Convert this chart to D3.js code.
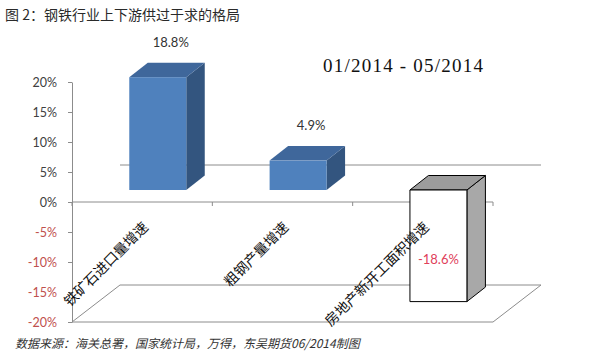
<!DOCTYPE html>
<html><head><meta charset="utf-8">
<script src="https://cdn.jsdelivr.net/npm/d3@7"></script>
<style>
html,body{margin:0;padding:0;background:#fff;}
svg{display:block;}
</style></head>
<body>
<svg id="c" width="594" height="358"></svg>
<script>
// ---- data ----
const categories = ["铁矿石进口量增速", "粗钢产量增速", "房地产新开工面积增速"];
const values = [18.8, 4.9, -18.6];
const valueLabels = ["18.8%", "4.9%", "-18.6%"];
const yTicks = [-20, -15, -10, -5, 0, 5, 10, 15, 20];
const title = "图 2：钢铁行业上下游供过于求的格局";
const period = "01/2014 - 05/2014";
const source = "数据来源：海关总署，国家统计局，万得，东吴期货06/2014制图";

// ---- layout ----
const svg = d3.select("#c");
const y = d3.scaleLinear().domain([-20, 20]).range([322, 82]);
const x = d3.scaleBand().domain(categories).range([72, 493]).paddingInner(0.594).paddingOuter(0.297);
const wall = {dx: 48, dy: -37};      // full depth of the 3D box
const front = {dx: 15.6, dy: -12};   // bar front plane offset
const depth = {dx: 18.5, dy: -14.5}; // bar depth
const grid = "#8c8c8c";

// title
svg.append("text").attr("x", 5).attr("y", 20)
  .attr("font-family", "'Noto Sans CJK SC'").attr("font-size", 14).attr("fill", "#2a2a2a")
  .text(title);

// back wall gridline at 0
svg.append("line")
  .attr("x1", x.range()[0] + wall.dx).attr("x2", x.range()[1] + wall.dx)
  .attr("y1", y(0) + wall.dy).attr("y2", y(0) + wall.dy)
  .attr("stroke", grid).attr("stroke-width", 1);

// floor
const x0 = x.range()[0], x1 = x.range()[1], yf = y(-20);
svg.append("path")
  .attr("d", `M${x0},${yf}L${x0 + wall.dx},${yf + wall.dy}L${x1 + wall.dx},${yf + wall.dy}L${x1},${yf}Z`)
  .attr("fill", "#fff").attr("stroke", grid).attr("stroke-width", 1);

// y axis
const yAxis = svg.append("g").attr("transform", `translate(${x0},0)`)
  .call(d3.axisLeft(y).tickValues(yTicks).tickSize(4).tickSizeOuter(0).tickPadding(11).tickFormat(d => d + "%"));
yAxis.select(".domain").attr("stroke", grid);
yAxis.selectAll(".tick line").attr("stroke", grid);
yAxis.selectAll(".tick text")
  .attr("font-family", "Lato").attr("font-size", 12.5)
  .attr("fill", d => d < 0 ? "#C0504D" : "#404040");

// x axis at 0
const step = x.step();
const bounds = d3.range(categories.length + 1).map(i => x0 + i * step);
svg.append("line").attr("x1", x0).attr("x2", x1).attr("y1", y(0)).attr("y2", y(0))
  .attr("stroke", grid);
svg.selectAll(".xt").data(bounds).enter().append("line")
  .attr("x1", d => d).attr("x2", d => d).attr("y1", y(0)).attr("y2", y(0) + 4)
  .attr("stroke", grid);

// bars
const colors = [
  {front: "#4F81BD", top: "#3F679B", side: "#33557F", stroke: "none"},
  {front: "#4F81BD", top: "#3F679B", side: "#33557F", stroke: "none"},
  {front: "#FFFFFF", top: "#9C9C9C", side: "#A8A8A8", stroke: "#000"}
];
const bars = svg.append("g");
categories.forEach((c, i) => {
  const v = values[i];
  const L = x(c) + front.dx, R = L + x.bandwidth();
  const yT = Math.min(y(v), y(0)) + front.dy, yB = Math.max(y(v), y(0)) + front.dy;
  const col = colors[i];
  const g = bars.append("g").attr("stroke", col.stroke).attr("stroke-width", 1).attr("stroke-linejoin", "round");
  g.append("path").attr("fill", col.side)
    .attr("d", `M${R},${yT}L${R + depth.dx},${yT + depth.dy}L${R + depth.dx},${yB + depth.dy}L${R},${yB}Z`);
  g.append("path").attr("fill", col.top)
    .attr("d", `M${L},${yT}L${L + depth.dx},${yT + depth.dy}L${R + depth.dx},${yT + depth.dy}L${R},${yT}Z`);
  g.append("rect").attr("fill", col.front)
    .attr("x", L).attr("y", yT).attr("width", R - L).attr("height", yB - yT);

  // value label
  const cx = (L + R) / 2;
  const t = svg.append("text").attr("text-anchor", "middle")
    .attr("font-family", "Lato").attr("font-size", 13)
    .attr("fill", v < 0 ? "#E0405A" : "#333")
    .text(valueLabels[i]);
  if (v >= 0) t.attr("x", cx + 13).attr("y", yT + depth.dy - 16);
  else t.attr("x", cx).attr("y", yB - 38);
});

// category labels
categories.forEach((c, i) => {
  const cx = x0 + (i + 0.5) * step;
  svg.append("text")
    .attr("transform", `translate(${cx + 7},${y(0) + 26}) rotate(-45)`)
    .attr("text-anchor", "end")
    .attr("font-family", "'Noto Sans CJK SC'").attr("font-size", 14).attr("fill", "#111")
    .text(c);
});

// period text
svg.append("text").attr("x", 323).attr("y", 72)
  .attr("font-family", "'Liberation Serif'").attr("font-size", 19).attr("fill", "#111")
  .attr("textLength", 160).attr("lengthAdjust", "spacing")
  .text(period);

// source
svg.append("text").attr("x", 15).attr("y", 348)
  .attr("font-family", "'Noto Sans CJK SC'").attr("font-size", 12).attr("font-style", "italic").attr("fill", "#333")
  .text(source);
</script>
</body></html>
